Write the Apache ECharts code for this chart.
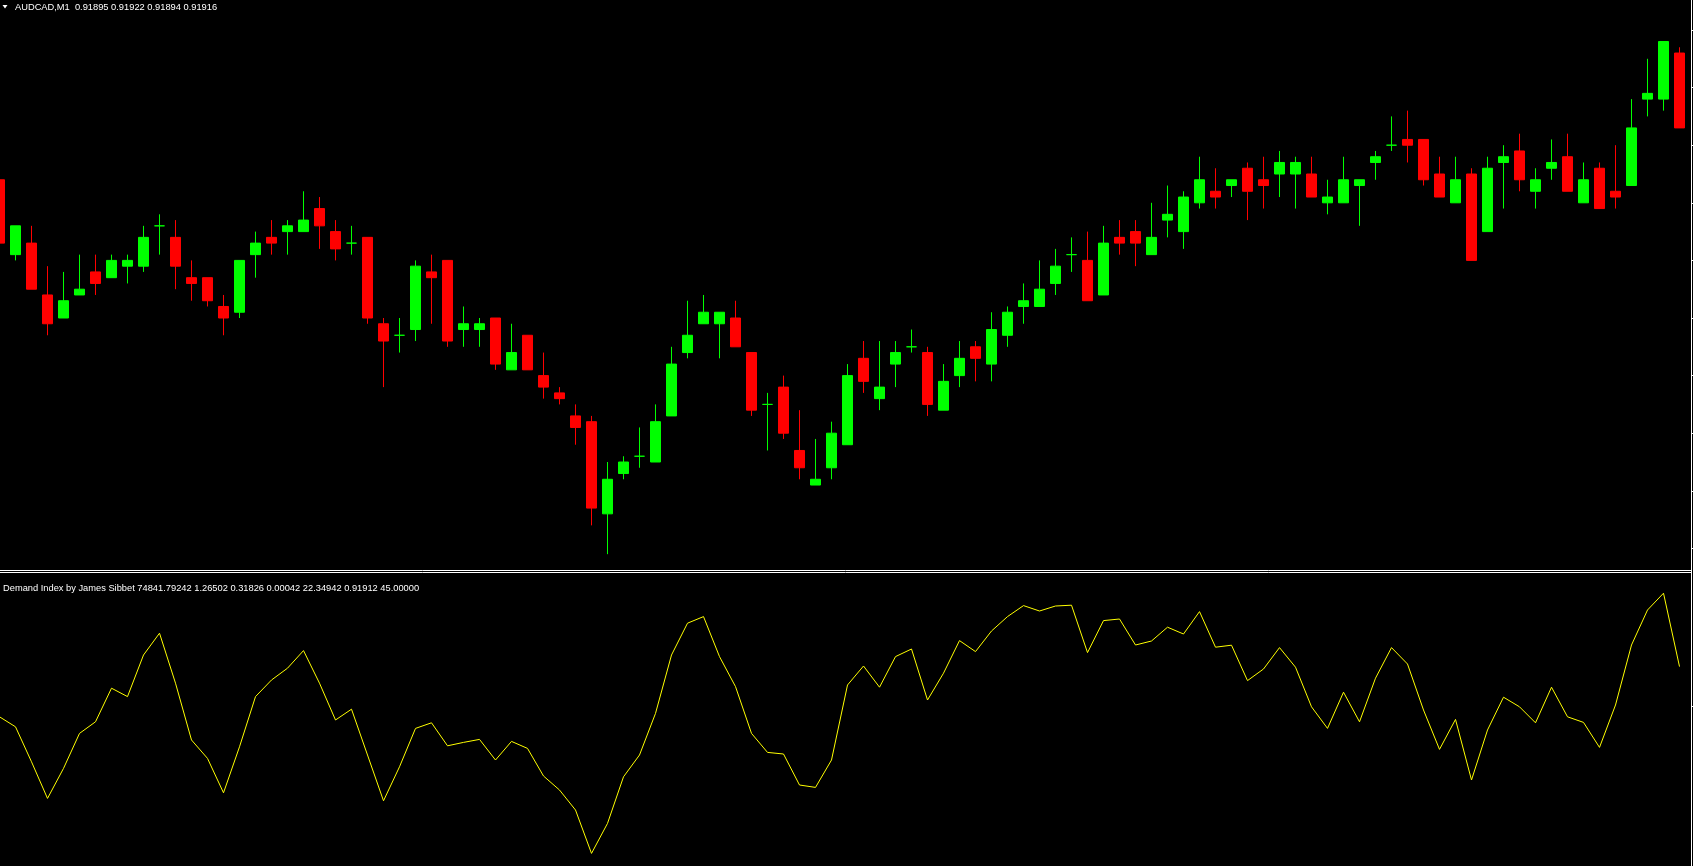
<!DOCTYPE html>
<html><head><meta charset="utf-8">
<script src="https://cdn.jsdelivr.net/npm/echarts@6/dist/echarts.min.js"></script>
<style>html,body{margin:0;padding:0;background:#000;overflow:hidden}#c{width:1693px;height:866px}</style>
</head><body><div id="c"></div>
<script>
const symbolTitle = 'AUDCAD,M1  0.91895 0.91922 0.91894 0.91916';
const indicatorTitle = 'Demand Index by James Sibbet 74841.79242 1.26502 0.31826 0.00042 22.34942 0.91912 45.00000';

const openPrices = [0.91904,0.91891,0.91893,0.91884,0.91880,0.91884,0.91888,0.91887,0.91889,0.91889,
0.91896,0.91894,0.91887,0.91887,0.91882,0.91881,0.91891,0.91894,0.91895,0.91895,
0.91899,0.91895,0.91893,0.91894,0.91879,0.91877,0.91878,0.91888,0.91890,0.91878,
0.91878,0.91880,0.91871,0.91877,0.91870,0.91867,0.91863,0.91862,0.91846,0.91853,
0.91856,0.91855,0.91863,0.91874,0.91879,0.91879,0.91880,0.91874,0.91865,0.91868,
0.91857,0.91851,0.91854,0.91858,0.91873,0.91866,0.91872,0.91875,0.91874,0.91864,
0.91870,0.91875,0.91872,0.91877,0.91882,0.91882,0.91886,0.91891,0.91890,0.91884,
0.91894,0.91895,0.91891,0.91897,0.91895,0.91900,0.91902,0.91903,0.91906,0.91904,
0.91905,0.91905,0.91905,0.91900,0.91900,0.91903,0.91907,0.91910,0.91911,0.91911,
0.91905,0.91900,0.91905,0.91895,0.91907,0.91909,0.91902,0.91906,0.91908,0.91900,
0.91906,0.91902,0.91903,0.91918,0.91918,0.91926];

const closePrices = [0.91893,0.91896,0.91885,0.91879,0.91883,0.91885,0.91886,0.91890,0.91890,0.91894,
0.91896,0.91889,0.91886,0.91883,0.91880,0.91890,0.91893,0.91893,0.91896,0.91897,
0.91896,0.91892,0.91893,0.91880,0.91876,0.91877,0.91889,0.91887,0.91876,0.91879,
0.91879,0.91872,0.91874,0.91871,0.91868,0.91866,0.91861,0.91847,0.91852,0.91855,
0.91856,0.91862,0.91872,0.91877,0.91881,0.91881,0.91875,0.91864,0.91865,0.91860,
0.91854,0.91852,0.91860,0.91870,0.91869,0.91868,0.91874,0.91875,0.91865,0.91869,
0.91873,0.91873,0.91878,0.91881,0.91883,0.91885,0.91889,0.91891,0.91883,0.91893,
0.91893,0.91893,0.91894,0.91898,0.91901,0.91904,0.91901,0.91904,0.91902,0.91903,
0.91907,0.91907,0.91901,0.91901,0.91904,0.91904,0.91908,0.91910,0.91910,0.91904,
0.91901,0.91904,0.91890,0.91906,0.91908,0.91904,0.91904,0.91907,0.91902,0.91904,
0.91899,0.91901,0.91913,0.91919,0.91928,0.91913];

const lowPrices = [0.91893,0.91890,0.91885,0.91877,0.91880,0.91884,0.91884,0.91887,0.91886,0.91888,
0.91891,0.91885,0.91883,0.91882,0.91877,0.91880,0.91887,0.91891,0.91891,0.91895,
0.91892,0.91890,0.91891,0.91879,0.91868,0.91874,0.91876,0.91879,0.91875,0.91875,
0.91875,0.91871,0.91871,0.91871,0.91866,0.91865,0.91858,0.91844,0.91839,0.91852,
0.91854,0.91855,0.91863,0.91873,0.91879,0.91873,0.91875,0.91863,0.91857,0.91859,
0.91852,0.91851,0.91852,0.91858,0.91867,0.91864,0.91868,0.91874,0.91863,0.91864,
0.91868,0.91869,0.91869,0.91875,0.91879,0.91882,0.91884,0.91888,0.91883,0.91884,
0.91891,0.91889,0.91891,0.91894,0.91892,0.91899,0.91899,0.91901,0.91897,0.91899,
0.91901,0.91899,0.91901,0.91898,0.91900,0.91896,0.91904,0.91909,0.91907,0.91903,
0.91901,0.91900,0.91890,0.91895,0.91899,0.91902,0.91899,0.91904,0.91902,0.91900,
0.91899,0.91899,0.91903,0.91915,0.91916,0.91913];

const highPrices = [0.91904,0.91896,0.91896,0.91889,0.91888,0.91891,0.91891,0.91891,0.91891,0.91896,
0.91898,0.91897,0.91890,0.91887,0.91884,0.91890,0.91895,0.91897,0.91897,0.91902,
0.91901,0.91897,0.91896,0.91894,0.91880,0.91880,0.91890,0.91891,0.91890,0.91882,
0.91880,0.91880,0.91879,0.91877,0.91874,0.91868,0.91865,0.91863,0.91855,0.91856,
0.91861,0.91865,0.91875,0.91883,0.91884,0.91881,0.91883,0.91874,0.91867,0.91870,
0.91864,0.91859,0.91862,0.91872,0.91876,0.91876,0.91876,0.91878,0.91875,0.91872,
0.91876,0.91876,0.91881,0.91882,0.91886,0.91890,0.91892,0.91894,0.91895,0.91896,
0.91897,0.91897,0.91900,0.91903,0.91902,0.91908,0.91906,0.91904,0.91907,0.91908,
0.91909,0.91908,0.91908,0.91904,0.91908,0.91904,0.91909,0.91915,0.91916,0.91911,
0.91908,0.91908,0.91906,0.91908,0.91910,0.91912,0.91906,0.91911,0.91912,0.91907,
0.91907,0.91910,0.91918,0.91925,0.91928,0.91927];

const demandIndex = [-5.4,-10.4,-27.9,-46.2,-31.2,-13.7,-7.9,8.9,4.7,25.5,
36.4,11.4,-17.0,-26.2,-43.4,-20.4,4.7,13.0,18.9,27.7,
11.4,-7.0,-1.6,-24.5,-47.4,-30.4,-11.2,-8.4,-19.9,-18.2,
-16.7,-27.0,-17.7,-21.2,-35.0,-42.0,-52.0,-73.7,-58.7,-35.4,
-24.5,-3.7,25.5,41.4,44.7,24.7,9.7,-13.7,-23.2,-24.0,
-39.5,-40.7,-27.0,10.5,20.0,9.4,24.7,28.5,3.0,16.4,
32.7,27.2,37.5,44.7,50.2,47.5,50.0,50.4,26.7,42.7,
43.5,30.5,32.5,39.4,36.0,47.2,29.4,30.4,12.7,18.5,
29.2,19.4,-0.4,-11.2,6.9,-7.9,13.9,29.2,21.0,-2.0,
-21.7,-6.7,-37.0,-12.0,4.4,-0.4,-8.4,9.4,-5.4,-8.2,
-20.7,0.5,30.5,48.0,56.4,19.7];

const priceMin = 0.91840, priceMax = 0.91930, priceStep = 0.0001;
const indMin = -80, indMax = 65, indStep = 80;

// bar positions on the time axis (bar number), visible window in bars
const barMin = 0.03125, barMax = 105.71875;

const candleData = openPrices.map((o, i) => [i, o, closePrices[i], lowPrices[i], highPrices[i]]);
const indicatorData = demandIndex.map((v, i) => [i, v]);

const chart = echarts.init(document.getElementById('c'), null, {renderer: 'canvas'});
const FONT = '9.3px "Liberation Sans", Arial, sans-serif';
const tickAxis = (extra) => Object.assign({
  type: 'value', position: 'right', offset: 0,
  axisLine: {show: false},
  axisTick: {show: true, length: 2, lineStyle: {color: '#ffffff', width: 1}},
  axisLabel: {show: false}, splitLine: {show: false}
}, extra);
const barAxis = (gi) => ({type: 'value', gridIndex: gi, min: barMin, max: barMax, show: false,
  axisLine: {show: false}, axisTick: {show: false}, axisLabel: {show: false}, splitLine: {show: false}});

chart.setOption({
  backgroundColor: '#000000',
  animation: false,
  grid: [
    {left: 0, right: 2, top: 30, height: 518.4, outerBoundsMode: 'none'},
    {left: 0, right: 2, top: 576, height: 290, outerBoundsMode: 'none'}
  ],
  xAxis: [barAxis(0), barAxis(1)],
  yAxis: [
    tickAxis({gridIndex: 0, min: priceMin, max: priceMax, interval: priceStep}),
    tickAxis({gridIndex: 1, min: indMin, max: indMax, interval: indStep,
      axisTick: {show: true, length: 2, customValues: [0], lineStyle: {color: '#ffffff', width: 1}}})
  ],
  series: [
    {
      type: 'candlestick', xAxisIndex: 0, yAxisIndex: 0, data: candleData,
      encode: {x: 0, y: [1, 2, 3, 4]},
      barWidth: 10, clip: false,
      itemStyle: {color: '#00ff00', color0: '#ff0000', borderColor: '#00ff00',
        borderColor0: '#ff0000', borderColorDoji: '#00ff00', borderWidth: 1}
    },
    {
      type: 'line', xAxisIndex: 1, yAxisIndex: 1, data: indicatorData,
      showSymbol: false, clip: false,
      lineStyle: {color: '#ffff00', width: 1}
    }
  ],
  graphic: [
    {type: 'polygon', shape: {points: [[2.5, 5], [7.5, 5], [5, 8.5]]}, style: {fill: '#ffffff'}},
    {type: 'text', x: 15, y: 7.5, style: {text: symbolTitle, font: FONT, fill: '#ffffff', verticalAlign: 'middle'}},
    {type: 'text', x: 3, y: 588.5, style: {text: indicatorTitle, font: FONT, fill: '#ffffff', verticalAlign: 'middle'}},
    {type: 'line', shape: {x1: 0, y1: 570.5, x2: 1691, y2: 570.5}, style: {stroke: '#ffffff', lineWidth: 1}},
    {type: 'line', shape: {x1: 0, y1: 572.5, x2: 1691, y2: 572.5}, style: {stroke: '#ffffff', lineWidth: 1}},
    {type: 'line', shape: {x1: 1691.5, y1: 0, x2: 1691.5, y2: 866}, style: {stroke: '#ffffff', lineWidth: 1}}
  ]
});
</script>
</body></html>
